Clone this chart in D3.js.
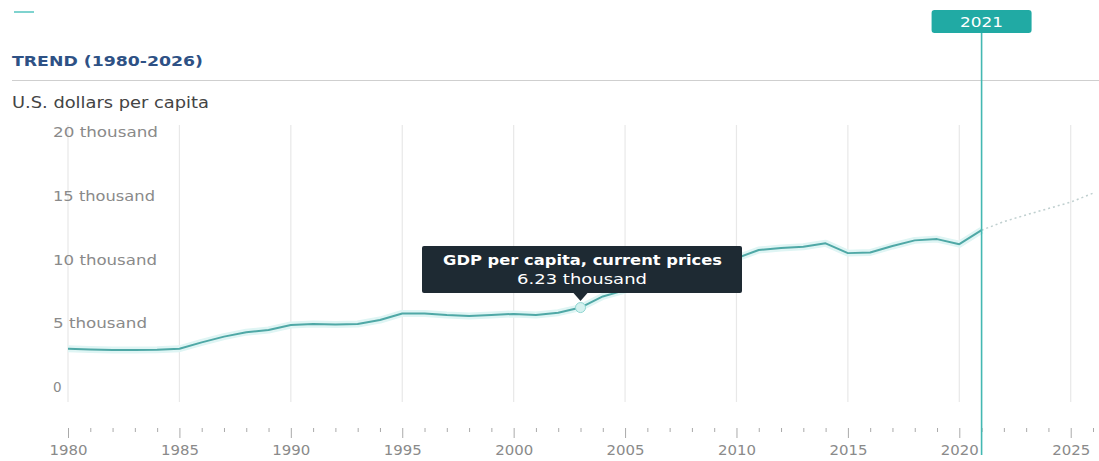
<!DOCTYPE html>
<html><head><meta charset="utf-8">
<script src="https://cdn.jsdelivr.net/npm/d3@7"></script>
<style>
html,body{margin:0;padding:0;background:#fff;}
svg{display:block;font-family:"DejaVu Sans",sans-serif;}
</style></head>
<body><svg id="c" width="1099" height="461"></svg>
<script>
const years = d3.range(1980, 2027);
const actualYears = d3.range(1980, 2022);
const actualValues = [3.0,2.95,2.9,2.9,2.92,3.0,3.5,3.95,4.3,4.47,4.86,4.94,4.9,4.94,5.25,5.77,5.77,5.65,5.57,5.65,5.73,5.65,5.83,6.23,7.1,7.6,8.3,9.0,9.7,9.5,10.1,10.75,10.9,11.0,11.27,10.5,10.55,11.06,11.5,11.6,11.2,12.3];
const projYears = [2021,2022,2023,2024,2025,2026];
const projValues = [12.3,12.97,13.5,14.0,14.5,15.2];
const yTicks = [0,5,10,15,20];
const yTickLabels = ["0","5 thousand","10 thousand","15 thousand","20 thousand"];
const xMajor = [1980,1985,1990,1995,2000,2005,2010,2015,2020,2025];
const highlightYear = 2021;
const tipYear = 2003;
const tipTitle = "GDP per capita, current prices";
const tipValue = "6.23 thousand";

const svg = d3.select("#c");
const x = d3.scaleLinear().domain([1980, 2026]).range([68, 1093]);
const y = d3.scaleLinear().domain([0, 20]).range([387, 132]);

function fit(sel, w){ sel.attr("textLength", w).attr("lengthAdjust","spacingAndGlyphs"); return sel; }

// top small teal dash
svg.append("line").attr("x1",14).attr("x2",34).attr("y1",12).attr("y2",12).attr("stroke","#7fd3cf").attr("stroke-width",2);

// title
fit(svg.append("text").attr("x",12).attr("y",66).text("TREND (1980-2026)")
  .attr("font-size",14).attr("font-weight",700).attr("fill","#2e5185"), 191);
svg.append("line").attr("x1",12).attr("x2",1099).attr("y1",80.5).attr("y2",80.5).attr("stroke","#cfcfcf").attr("stroke-width",1.2);

fit(svg.append("text").attr("x",12).attr("y",108).text("U.S. dollars per capita")
  .attr("font-size",15).attr("fill","#444"), 197);

// vertical grid
svg.append("g").selectAll("line").data(xMajor).join("line")
  .attr("x1",d=>x(d)).attr("x2",d=>x(d)).attr("y1",125).attr("y2",402)
  .attr("stroke","#e8e8e8").attr("stroke-width",1.2);

// y labels
const yLabelW = {"0":9,"5 thousand":94,"10 thousand":104,"15 thousand":102,"20 thousand":105};
svg.append("g").selectAll("text").data(yTicks).join("text")
  .attr("x",53).attr("y",d=>y(d)+5).text((d,i)=>yTickLabels[i])
  .attr("font-size",13.5).attr("fill","#8a8a8a")
  .each(function(d,i){ if (i>0) fit(d3.select(this), yLabelW[yTickLabels[i]]); });

// x axis ticks
const xAxis = d3.axisBottom(x).tickValues(years).tickSize(0).tickFormat(d => xMajor.includes(d) ? d : "");
const gx = svg.append("g").attr("transform","translate(0,428)").call(xAxis);
gx.select(".domain").remove();
gx.selectAll(".tick line").attr("y2", d => xMajor.includes(d) ? 10 : 4).attr("stroke","#aaa").attr("stroke-width",1);
gx.selectAll(".tick text").attr("y",17).attr("font-size",13.5).attr("fill","#8a8a8a").attr("font-family","DejaVu Sans, sans-serif")
  .each(function(d){ if (xMajor.includes(d)) fit(d3.select(this), 38); });

// lines
const actual = actualYears.map((d,i)=>[d, actualValues[i]]);
const proj = projYears.map((d,i)=>[d, projValues[i]]);
const line = d3.line().x(d=>x(d[0])).y(d=>y(d[1]));
svg.append("path").attr("d",line(actual)).attr("fill","none").attr("stroke","#dff5f4").attr("stroke-width",7).attr("stroke-linejoin","round");
svg.append("path").attr("d",line(actual)).attr("fill","none").attr("stroke","#4fa8a6").attr("stroke-width",2).attr("stroke-linejoin","round");
svg.append("path").attr("d",line(proj)).attr("fill","none").attr("stroke","#bfcfcf").attr("stroke-width",1.5).attr("stroke-dasharray","2,3");

// highlight line 2021
svg.append("line").attr("x1",x(highlightYear)).attr("x2",x(highlightYear)).attr("y1",30).attr("y2",455)
  .attr("stroke","#43b8b2").attr("stroke-width",1.6);
svg.append("rect").attr("x",x(highlightYear)-50).attr("y",10).attr("width",100).attr("height",23).attr("rx",3)
  .attr("fill","#21aaa4");
fit(svg.append("text").attr("x",x(highlightYear)-21.5).attr("y",27).text(highlightYear)
  .attr("font-size",14).attr("fill","#fff"), 43);

// tooltip marker
const tv = actualValues[actualYears.indexOf(tipYear)];
svg.append("circle").attr("cx",x(tipYear)).attr("cy",y(tv)).attr("r",5).attr("fill","#d4f1ef").attr("stroke","#8fd6d1").attr("stroke-width",1);

// tooltip
const tx = x(tipYear);
const tip = svg.append("g");
tip.append("rect").attr("x",422).attr("y",246).attr("width",320).attr("height",47).attr("rx",2).attr("fill","#1e2a33");
tip.append("path").attr("d",`M${tx-7},293 L${tx},301 L${tx+7},293 Z`).attr("fill","#1e2a33");
fit(tip.append("text").attr("x",443).attr("y",265).text(tipTitle)
  .attr("font-size",14.5).attr("font-weight",700).attr("fill","#fff"), 279);
fit(tip.append("text").attr("x",517).attr("y",284).text(tipValue)
  .attr("font-size",14.5).attr("fill","#fff"), 130);
</script></body></html>
